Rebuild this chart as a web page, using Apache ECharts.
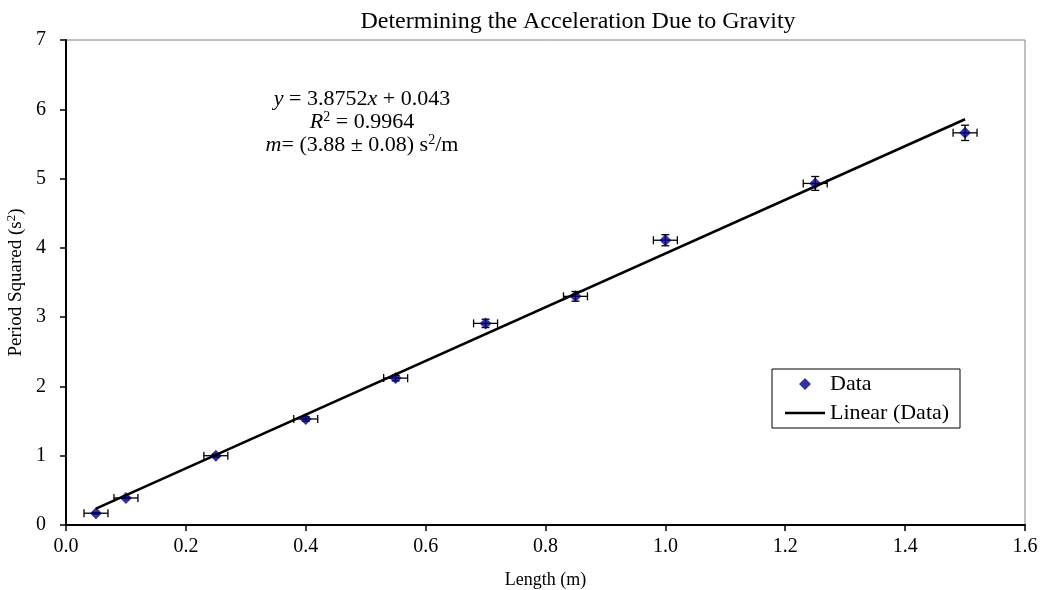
<!DOCTYPE html>
<html>
<head>
<meta charset="utf-8">
<script src="https://cdn.jsdelivr.net/npm/echarts@6/dist/echarts.min.js"></script>
<style>
html,body{margin:0;padding:0;background:#fff;}
#chart{width:1040px;height:590px;}
</style>
</head>
<body>
<div id="chart"></div>
<script>
// Data
const lengths = [0.05, 0.10, 0.25, 0.40, 0.55, 0.70, 0.85, 1.00, 1.25, 1.50];
const periodSquared = [0.17, 0.39, 1.00, 1.53, 2.12, 2.91, 3.30, 4.11, 4.93, 5.66];
const lengthErr = [0.02, 0.02, 0.02, 0.02, 0.02, 0.02, 0.02, 0.02, 0.02, 0.02];
const periodErr = [0.01, 0.01, 0.02, 0.03, 0.04, 0.06, 0.07, 0.08, 0.10, 0.11];
const trendX = [0.05, 1.50];
const trendY = [0.237, 5.856];
const xTicks = [0, 0.2, 0.4, 0.6, 0.8, 1.0, 1.2, 1.4, 1.6];
const yTicks = [0, 1, 2, 3, 4, 5, 6, 7];
const titleText = 'Determining the Acceleration Due to Gravity';
const xName = 'Length (m)';
const yName = '{n|Period Squared (s}{s|2}{n|)}';

const FONT = "'Liberation Serif', 'Times New Roman', serif";

const scatterData = lengths.map((x, i) => [x, periodSquared[i]]);
const errData = lengths.map((x, i) => [x, periodSquared[i], lengthErr[i], periodErr[i]]);
const trendData = trendX.map((x, i) => [x, trendY[i]]);

const chart = echarts.init(document.getElementById('chart'), null, {renderer: 'canvas'});

function renderErr(params, api) {
  const x = api.value(0), y = api.value(1), ex = api.value(2), ey = api.value(3);
  const l = api.coord([x - ex, y]);
  const r = api.coord([x + ex, y]);
  const t = api.coord([x, y + ey]);
  const b = api.coord([x, y - ey]);
  const cap = 4;
  const style = {stroke: '#000', lineWidth: 1.3};
  return {
    type: 'group',
    children: [
      {type: 'line', shape: {x1: l[0], y1: l[1], x2: r[0], y2: r[1]}, style},
      {type: 'line', shape: {x1: l[0], y1: l[1] - cap, x2: l[0], y2: l[1] + cap}, style},
      {type: 'line', shape: {x1: r[0], y1: r[1] - cap, x2: r[0], y2: r[1] + cap}, style},
      {type: 'line', shape: {x1: t[0], y1: t[1], x2: b[0], y2: b[1]}, style},
      {type: 'line', shape: {x1: t[0] - cap, y1: t[1], x2: t[0] + cap, y2: t[1]}, style},
      {type: 'line', shape: {x1: b[0] - cap, y1: b[1], x2: b[0] + cap, y2: b[1]}, style}
    ]
  };
}

const richStyles = {
  i: {fontStyle: 'italic', fontFamily: FONT, fontSize: 22, lineHeight: 24},
  n: {fontFamily: FONT, fontSize: 22, lineHeight: 24},
  s: {fontFamily: FONT, fontSize: 14, lineHeight: 24, verticalAlign: 'top'}
};

function eqText(text, y) {
  return {
    type: 'text', x: 362, y: y, z: 10,
    style: {text: text, align: 'center', verticalAlign: 'middle', fill: '#000',
      font: '22px ' + FONT, rich: richStyles}
  };
}

const option = {
  animation: false,
  backgroundColor: '#fff',
  textStyle: {fontFamily: FONT},
  grid: {
    left: 66, top: 40, right: 15, bottom: 65,
    outerBoundsMode: 'none', containLabel: false,
    show: true, borderColor: '#808080', borderWidth: 1, backgroundColor: 'transparent'
  },
  xAxis: {
    type: 'value', min: xTicks[0], max: xTicks[xTicks.length - 1], interval: 0.2,
    name: xName, nameLocation: 'middle', nameGap: 46,
    nameTextStyle: {fontFamily: FONT, fontSize: 18, color: '#000'},
    axisLine: {show: true, onZero: false, lineStyle: {color: '#000', width: 2}},
    axisTick: {show: true, inside: false, length: 6, lineStyle: {color: '#000', width: 1.5}},
    axisLabel: {margin: 12, fontFamily: FONT, fontSize: 20, color: '#000',
      formatter: v => v.toFixed(1)},
    splitLine: {show: false}
  },
  yAxis: {
    type: 'value', min: yTicks[0], max: yTicks[yTicks.length - 1], interval: 1,
    name: yName, nameLocation: 'middle', nameGap: 37,
    nameTextStyle: {fontFamily: FONT, fontSize: 19, color: '#000',
      rich: {
        n: {fontFamily: FONT, fontSize: 19, lineHeight: 22},
        s: {fontFamily: FONT, fontSize: 13, lineHeight: 22, verticalAlign: 'top'}
      }},
    axisLine: {show: true, onZero: false, lineStyle: {color: '#000', width: 2}},
    axisTick: {show: true, inside: false, length: 6, lineStyle: {color: '#000', width: 1.5}},
    axisLabel: {margin: 20, fontFamily: FONT, fontSize: 20, color: '#000'},
    splitLine: {show: false}
  },
  legend: {
    show: true, orient: 'vertical', left: 785, top: 373, padding: 0,
    itemWidth: 40, itemHeight: 12, itemGap: 7,
    textStyle: {fontFamily: FONT, fontSize: 22, color: '#000'},
    data: [
      {name: 'Data', icon: 'path://M20,0 L26,6 L20,12 L14,6 Z M0,6 L0.01,6 L0,6.01 Z M40,6 L39.99,6 L40,6.01 Z'},
      {name: 'Linear (Data)', icon: 'path://M0,0 L40,0 L40,2.5 L0,2.5 Z'}
    ]
  },
  graphic: [
    {type: 'text', x: 578, y: 22,
      style: {text: titleText, font: '24px ' + FONT, fill: '#000', align: 'center', verticalAlign: 'middle'}},
    {type: 'rect', shape: {x: 772, y: 369, width: 188, height: 59},
      style: {fill: 'none', stroke: '#000', lineWidth: 1}, z: 10},
    eqText('{i|y}{n| = 3.8752}{i|x}{n| + 0.043}', 99),
    eqText('{i|R}{s|2}{n| = 0.9964}', 122),
    eqText('{i|m}{n|= (3.88 ± 0.08) s}{s|2}{n|/m}', 145)
  ],
  series: [
    {
      name: 'errors', type: 'custom', renderItem: renderErr, data: errData,
      encode: {x: 0, y: 1}, z: 2, silent: true
    },
    {
      name: 'Data', type: 'scatter', data: scatterData, symbol: 'diamond',
      symbolSize: [12, 12], itemStyle: {color: '#000080'}, z: 3
    },
    {
      name: 'Linear (Data)', type: 'line', data: trendData, symbol: 'none', showSymbol: false,
      lineStyle: {color: '#000', width: 2.5}, itemStyle: {color: '#000'}, z: 4
    }
  ]
};
chart.setOption(option);
</script>
</body>
</html>
